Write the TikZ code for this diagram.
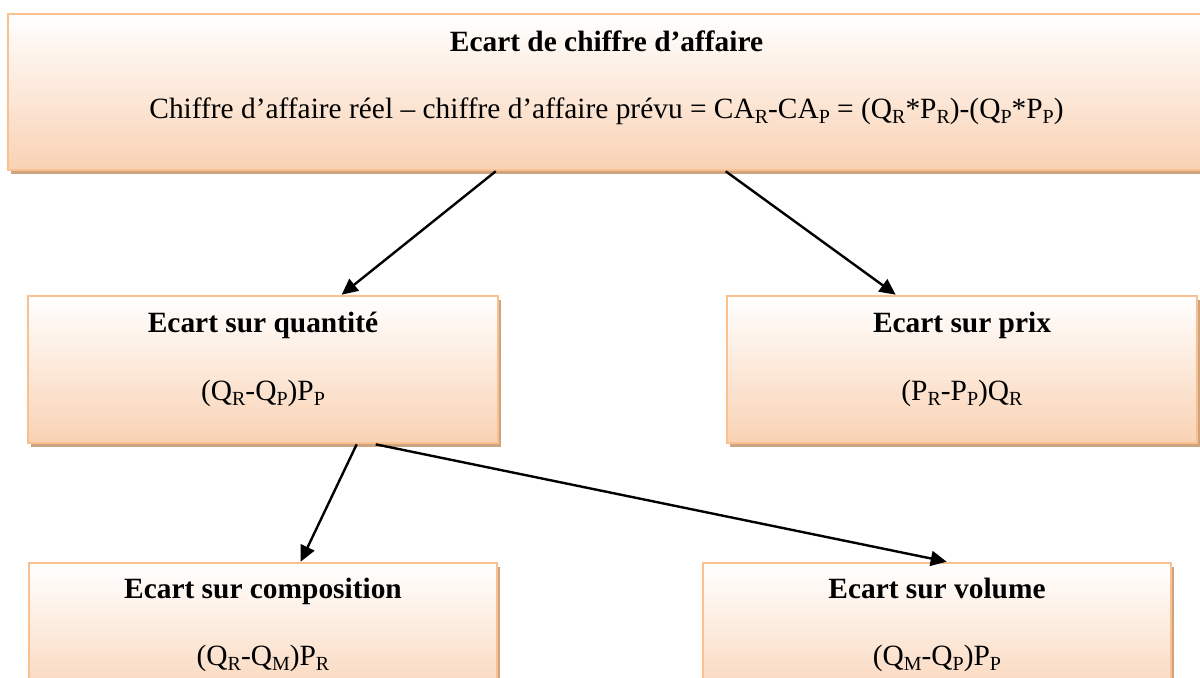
\documentclass[tikz,border=0pt]{standalone}
\usepackage{fontspec}
\setmainfont{Liberation Serif}
\usetikzlibrary{arrows.meta,shadows}
\definecolor{boxline}{RGB}{250,192,143}
\definecolor{boxbottom}{RGB}{249,210,180}
\definecolor{boxshadow}{RGB}{206,164,128}
% lowered subscript letters as used in the formulas
\newcommand{\lowsub}[1]{\raisebox{-0.35ex}{\fontsize{10}{10}\selectfont #1}}
\begin{document}
\begin{tikzpicture}[x=0.5pt,y=-0.5pt,
  card/.style={rectangle, draw=boxline, line width=1.3pt,
    top color=white, bottom color=boxbottom, inner sep=0pt,
    drop shadow={shadow xshift=1.6pt, shadow yshift=-2pt, fill=boxshadow, opacity=1}},
  headtext/.style={anchor=base, inner sep=0pt, font=\fontsize{14.7}{17}\selectfont\bfseries},
  formtext/.style={anchor=base, inner sep=0pt, font=\fontsize{14.7}{17}\selectfont},
  link/.style={line width=1.2pt, -{Triangle[length=8pt,width=7.5pt]}}]
\useasboundingbox (0,0) rectangle (1200,677);

% boxes
\node[card, minimum width=598.5pt, minimum height=78pt] (top) at (606.5,92) {};
\node[card, minimum width=235pt, minimum height=73.5pt] (qty) at (263,369.5) {};
\node[card, minimum width=235pt, minimum height=73.5pt] (prix) at (962,369.5) {};
\node[card, minimum width=234pt, minimum height=73.5pt] (comp) at (263,636.5) {};
\node[card, minimum width=234pt, minimum height=73.5pt] (vol) at (937,636.5) {};

% texts
\node[headtext] (topT) at ([yshift=-19.5pt]top.north) {Ecart de chiffre d’affaire};
\node[formtext] (topF) at ([yshift=-53pt]top.north) {Chiffre d’affaire réel – chiffre d’affaire prévu = CA\lowsub{R}-CA\lowsub{P} = (Q\lowsub{R}*P\lowsub{R})-(Q\lowsub{P}*P\lowsub{P})};
\node[headtext] (qtyT) at ([yshift=-19pt]qty.north) {Ecart sur quantité};
\node[formtext] (qtyF) at ([yshift=-53pt]qty.north) {(Q\lowsub{R}-Q\lowsub{P})P\lowsub{P}};
\node[headtext] (prixT) at ([yshift=-19pt]prix.north) {Ecart sur prix};
\node[formtext] (prixF) at ([yshift=-53pt]prix.north) {(P\lowsub{R}-P\lowsub{P})Q\lowsub{R}};
\node[headtext] (compT) at ([yshift=-18.5pt]comp.north) {Ecart sur composition};
\node[formtext] (compF) at ([yshift=-52pt]comp.north) {(Q\lowsub{R}-Q\lowsub{M})P\lowsub{R}};
\node[headtext] (volT) at ([yshift=-18.5pt]vol.north) {Ecart sur volume};
\node[formtext] (volF) at ([yshift=-52pt]vol.north) {(Q\lowsub{M}-Q\lowsub{P})P\lowsub{P}};

% connectors
\draw[link] ([xshift=244.5pt]top.south west) -- ([xshift=157.5pt]qty.north west);
\draw[link] ([xshift=359.5pt]top.south west) -- ([xshift=85pt]prix.north west);
\draw[link] ([xshift=165pt]qty.south west) -- ([xshift=136.5pt]comp.north west);
\draw[link] ([xshift=174.5pt]qty.south west) -- ([xshift=122.5pt]vol.north west);
\end{tikzpicture}
\end{document}
